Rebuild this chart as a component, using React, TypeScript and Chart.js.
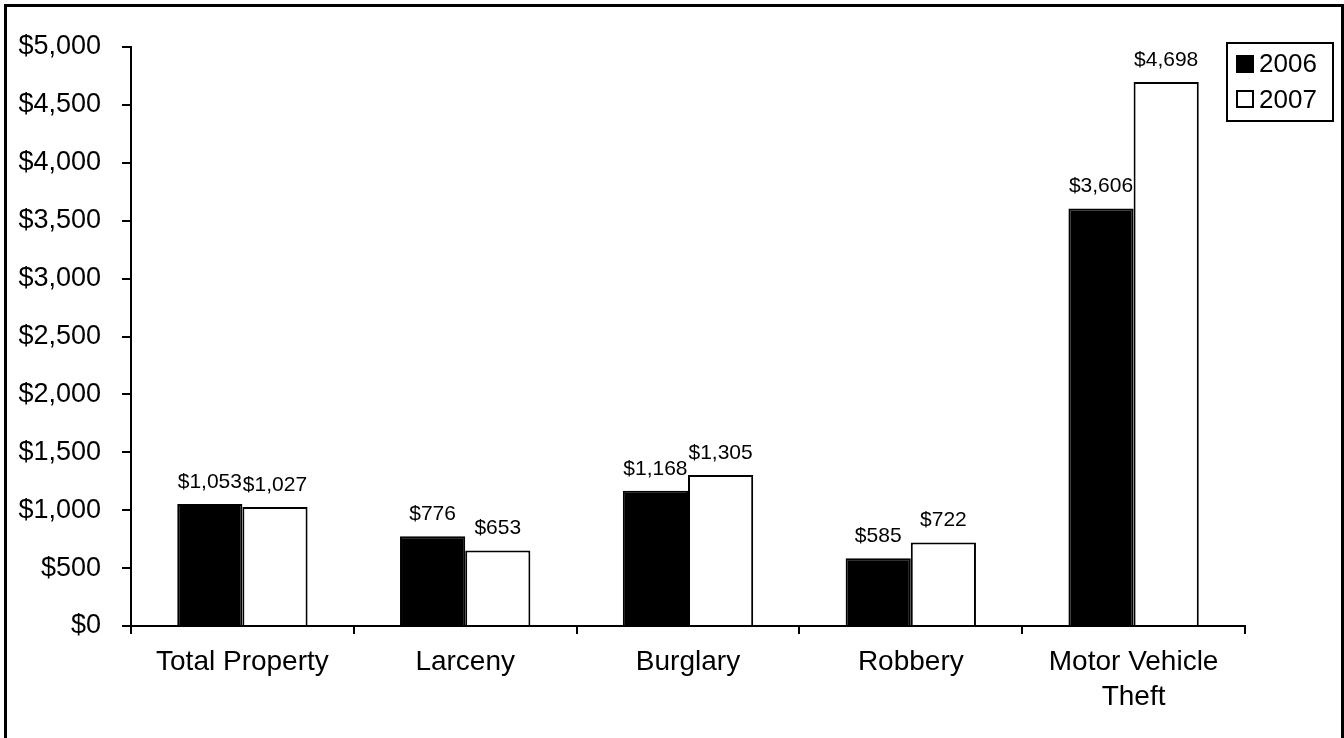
import React, { useEffect, useRef } from "react";
import { Chart, registerables } from "chart.js";

Chart.register(...registerables);

const categories: (string | string[])[] = [
  "Total Property",
  "Larceny",
  "Burglary",
  "Robbery",
  ["Motor Vehicle", "Theft"],
];
const values2006 = [1053, 776, 1168, 585, 3606];
const values2007 = [1027, 653, 1305, 722, 4698];
const seriesNames = ["2006", "2007"];
const yTickMax = 5000;
const yTickStep = 500;

const FONT = "'Liberation Sans', Arial, Helvetica, sans-serif";

const fmt = (v: number) => "$" + v.toLocaleString("en-US");

export default function App() {
  const ref = useRef<HTMLCanvasElement | null>(null);

  useEffect(() => {
    if (!ref.current) return;
    const labelPlugin = {
      id: "valueLabels",
      afterDatasetsDraw(chart: any) {
        const ctx = chart.ctx;
        ctx.save();
        ctx.font = `21px ${FONT}`;
        ctx.fillStyle = "#000";
        ctx.textAlign = "center";
        ctx.textBaseline = "alphabetic";
        chart.data.datasets.forEach((ds: any, di: number) => {
          const meta = chart.getDatasetMeta(di);
          meta.data.forEach((bar: any, i: number) => {
            ctx.fillText(fmt(ds.data[i]), bar.x, bar.y - 16);
          });
        });
        ctx.restore();
      },
    };
    const framePlugin = {
      id: "frameLegend",
      afterDraw(chart: any) {
        const ctx = chart.ctx;
        ctx.save();
        ctx.strokeStyle = "#000";
        ctx.lineWidth = 3;
        ctx.strokeRect(5.5, 5.5, 1337, 745);
        ctx.lineWidth = 2;
        ctx.strokeRect(1227, 43, 106, 78);
        ctx.font = `26px ${FONT}`;
        ctx.textAlign = "left";
        ctx.textBaseline = "alphabetic";
        ctx.fillStyle = "#000";
        ctx.fillRect(1236, 55, 18, 18);
        ctx.fillText(seriesNames[0], 1259, 72);
        ctx.fillStyle = "#fff";
        ctx.fillRect(1237, 91, 16, 16);
        ctx.lineWidth = 2;
        ctx.strokeRect(1237, 91, 16, 16);
        ctx.fillStyle = "#000";
        ctx.fillText(seriesNames[1], 1259, 108);
        ctx.restore();
      },
    };

    const chart = new Chart(ref.current, {
      type: "bar",
      data: {
        labels: categories as any,
        datasets: [
          {
            label: seriesNames[0],
            data: values2006,
            backgroundColor: "#000",
            borderColor: "#000",
            borderWidth: 2,
            barPercentage: 1,
            categoryPercentage: 0.585,
          },
          {
            label: seriesNames[1],
            data: values2007,
            backgroundColor: "#fff",
            borderColor: "#000",
            borderWidth: 2,
            barPercentage: 1,
            categoryPercentage: 0.585,
          },
        ],
      },
      options: {
        responsive: false,
        animation: false,
        layout: { padding: { left: 0, top: 47, right: 99, bottom: 0 } },
        plugins: {
          legend: { display: false },
          tooltip: { enabled: false },
        },
        scales: {
          x: {
            grid: {
              display: true,
              drawOnChartArea: false,
              drawTicks: true,
              tickLength: 8,
              color: "#000",
              lineWidth: 2,
              offset: true,
            },
            border: { display: true, color: "#000", width: 2 },
            ticks: {
              color: "#000",
              font: { family: FONT, size: 28, lineHeight: 1.25 },
              padding: 11,
              maxRotation: 0,
              autoSkip: false,
            },
            afterFit: (s: any) => {
              s.height = 112;
            },
          },
          y: {
            min: 0,
            max: yTickMax,
            grid: {
              display: true,
              drawOnChartArea: false,
              drawTicks: true,
              tickLength: 9,
              color: "#000",
              lineWidth: 2,
            },
            border: { display: true, color: "#000", width: 2 },
            ticks: {
              stepSize: yTickStep,
              color: "#000",
              font: { family: FONT, size: 27 },
              padding: 21,
              callback: (v: any) => fmt(Number(v)),
            },
            afterFit: (s: any) => {
              s.width = 131;
            },
          },
        },
      },
      plugins: [labelPlugin, framePlugin],
    });
    return () => chart.destroy();
  }, []);

  return (
    <div
      style={{
        position: "fixed",
        left: 0,
        top: 0,
        width: 1344,
        height: 738,
        background: "#fff",
      }}
    >
      <canvas ref={ref} width={1344} height={738} />
    </div>
  );
}
